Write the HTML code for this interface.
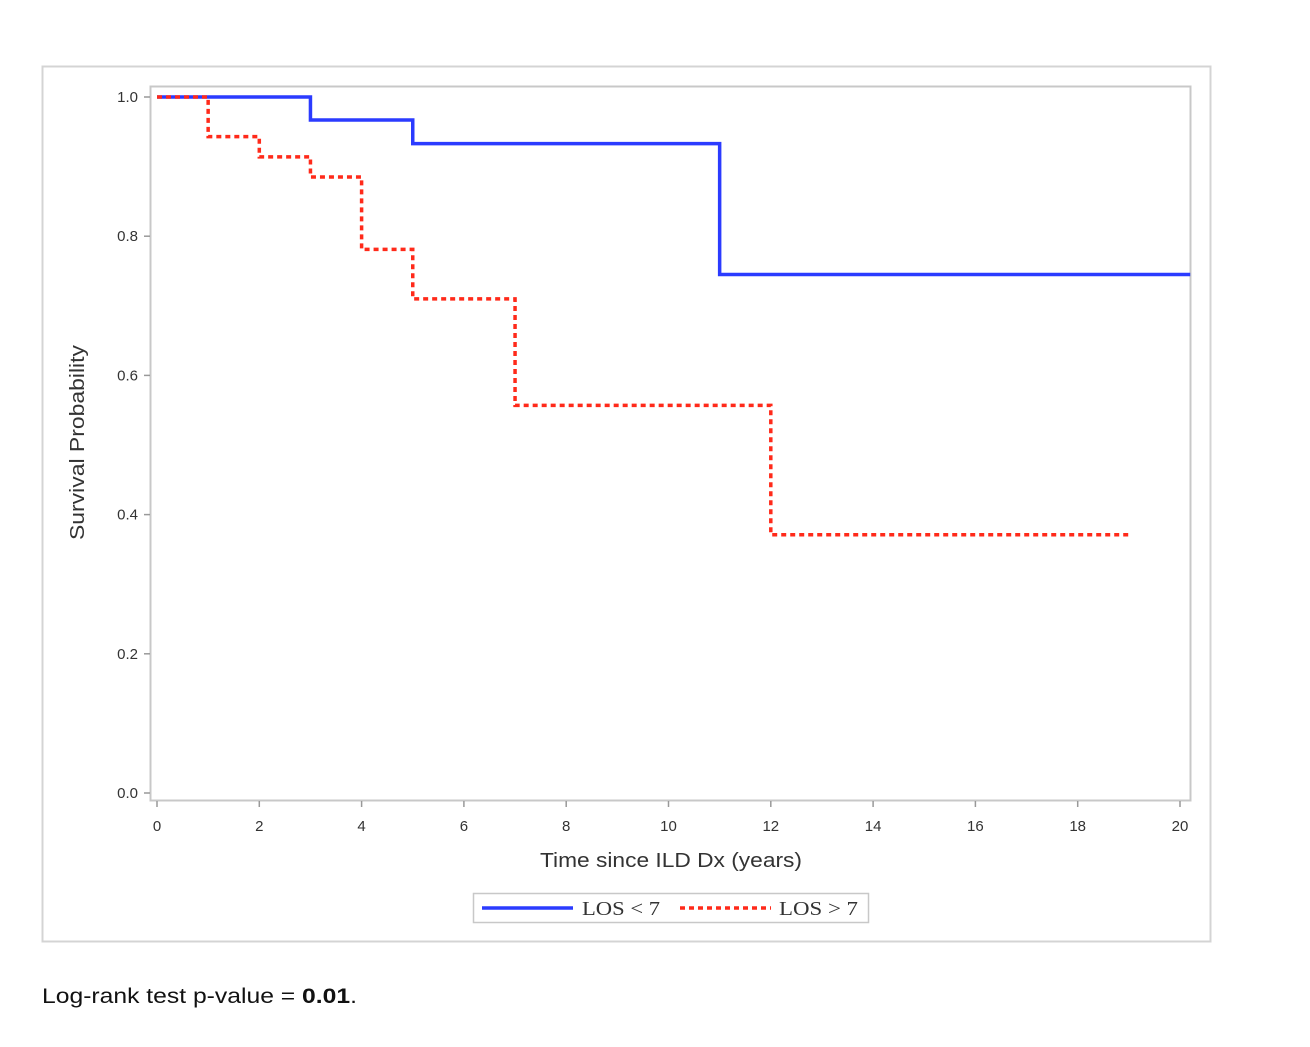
<!DOCTYPE html>
<html><head><meta charset="utf-8"><style>
body{margin:0;background:#fff;}
svg text{font-family:"Liberation Sans",sans-serif;}
</style></head><body>
<svg width="1310" height="1042" xmlns="http://www.w3.org/2000/svg">
<rect x="42.5" y="66.5" width="1168" height="875" fill="#fff" stroke="#d4d4d4" stroke-width="2"/>
<rect x="150.5" y="86.5" width="1040" height="714" fill="#fff" stroke="#c8c8c8" stroke-width="2"/>
<g id="axes"></g>
<g id="series"></g>
<text x="540" y="867" font-size="20" fill="#333" textLength="262" lengthAdjust="spacingAndGlyphs">Time since ILD Dx (years)</text>
<text transform="translate(84,540) rotate(-90)" font-size="20" fill="#333" textLength="195" lengthAdjust="spacingAndGlyphs">Survival Probability</text>
<g>
<rect x="473.5" y="893.5" width="395" height="29" fill="#fff" stroke="#c8c8c8" stroke-width="1.5"/>
<line x1="482" y1="908" x2="573" y2="908" stroke="#2b3bff" stroke-width="3.5"/>
<text x="582" y="915" font-size="20" fill="#333" textLength="78" lengthAdjust="spacingAndGlyphs" style="font-family:'Liberation Serif',serif">LOS &lt; 7</text>
<line x1="680" y1="908" x2="771" y2="908" stroke="#ff2a1a" stroke-width="3.5" stroke-dasharray="5,4"/>
<text x="779" y="915" font-size="20" fill="#333" textLength="79" lengthAdjust="spacingAndGlyphs" style="font-family:'Liberation Serif',serif">LOS &gt; 7</text>
</g>
<text x="42" y="1003" font-size="21" fill="#111" textLength="315" lengthAdjust="spacingAndGlyphs">Log-rank test p-value = <tspan font-weight="bold">0.01</tspan>.</text>
</svg>
<script>
const xTicks=[0,2,4,6,8,10,12,14,16,18,20];
const yTicks=[0.0,0.2,0.4,0.6,0.8,1.0];
const blueTimes=[0,3,5,11,20.2];
const blueSurv=[1.0,0.967,0.933,0.745];
const redTimes=[0,1,2,3,4,5,7,12,19];
const redSurv=[1.0,0.943,0.914,0.885,0.781,0.71,0.557,0.371];
const NS='http://www.w3.org/2000/svg';
const xs=v=>157+v*(1180-157)/20;
const ys=v=>793-v*(793-97);
function mk(t,a,p){const e=document.createElementNS(NS,t);for(const k in a)e.setAttribute(k,a[k]);p.appendChild(e);return e;}
const ax=document.getElementById('axes');
xTicks.forEach(t=>{
 const l=mk('line',{x1:xs(t),x2:xs(t),y1:801,y2:807,stroke:'#999','stroke-width':1.5},ax);
 
 
 const tx=mk('text',{x:xs(t),y:831,'font-size':15,fill:'#333','text-anchor':'middle'},ax);
 tx.textContent=t;
 
 
});
yTicks.forEach(t=>{
 const l=mk('line',{x1:144,x2:150,y1:ys(t),y2:ys(t),stroke:'#999','stroke-width':1.5},ax);
 
 
 const tx=mk('text',{x:138,y:ys(t)+5,'font-size':15,fill:'#333','text-anchor':'end'},ax);
 tx.textContent=t.toFixed(1);
 
 
});
function stepPath(times,surv){
 let d='M'+xs(times[0])+','+ys(surv[0]);
 for(let i=0;i<surv.length;i++){
  d+=' H'+xs(times[i+1]);
  if(i+1<surv.length)d+=' V'+ys(surv[i+1]);
 }
 return d;
}
const sg=document.getElementById('series');
const b=mk('path',{d:stepPath(blueTimes,blueSurv),fill:'none',stroke:'#2b3bff','stroke-width':3.5},sg);


const r=mk('path',{d:stepPath(redTimes,redSurv),fill:'none',stroke:'#ff2a1a','stroke-width':3.5,'stroke-dasharray':'5,4'},sg);


</script>
</body></html>
